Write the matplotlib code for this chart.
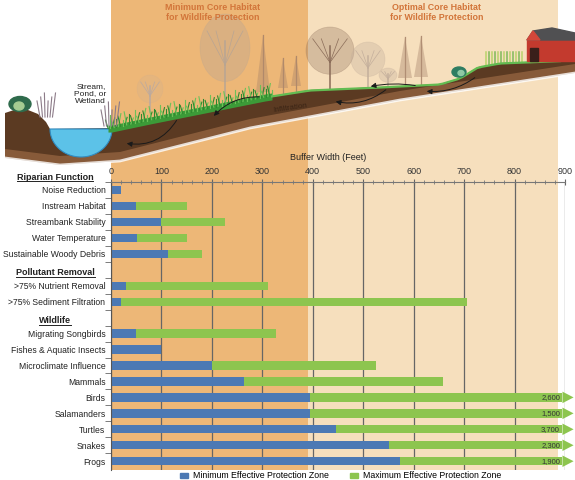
import numpy as np
import matplotlib.pyplot as plt
from matplotlib.patches import Rectangle, Polygon, Ellipse, FancyArrowPatch, Patch
from matplotlib.transforms import blended_transform_factory
from matplotlib.ticker import MultipleLocator

plt.rcParams['font.family'] = ['Liberation Sans', 'DejaVu Sans']

# data (feet)
groups = ["Riparian Function", "Pollutant Removal", "Wildlife"]
group_sizes = [5, 2, 9]
labels = ["Noise Reduction", "Instream Habitat", "Streambank Stability",
          "Water Temperature", "Sustainable Woody Debris",
          ">75% Nutrient Removal", ">75% Sediment Filtration",
          "Migrating Songbirds", "Fishes & Aquatic Insects",
          "Microclimate Influence", "Mammals", "Birds", "Salamanders",
          "Turtles", "Snakes", "Frogs"]
min_zone = [20, 50, 100, 52, 113, 30, 20, 50, 100, 200, 264, 395, 395, 446, 551, 573]
max_zone = [20, 150, 225, 150, 180, 311, 705, 328, 100, 525, 658, 2600, 1500, 3700, 2300, 1900]
xticks = [0, 100, 200, 300, 400, 500, 600, 700, 800, 900]

blue = '#4C79B4'
green = '#8DC54F'
dark_band = '#EDB777'
light_band = '#F6DFBD'
W, H = 575, 480

# row positions: one slot per header and per item
rows, head_rows = [], []
pos = 0
for n in group_sizes:
    head_rows.append(pos)
    pos += 1
    for k in range(n):
        rows.append(pos)
        pos += 1
rows = np.array(rows)

fig = plt.figure(figsize=(W / 100, H / 100), dpi=100)
ill = fig.add_axes([0, 0, 1, 1], zorder=0)
ill.set_xlim(0, W)
ill.set_ylim(H, 0)
ill.axis('off')

ax = fig.add_axes([111 / W, 1 - 470 / H, 454 / W, 288 / H], zorder=1)
ax.patch.set_alpha(0)
ax.set_xlim(0, 900)
ax.set_ylim(pos - 0.45, 0.56)

# background habitat bands, running up through the illustration
band_tr = blended_transform_factory(ax.transData, ill.transData)
ill.add_patch(Rectangle((0, 0), 390, 470, transform=band_tr, color=dark_band, lw=0, zorder=0))
ill.add_patch(Rectangle((390, 0), 497, 470, transform=band_tr, color=light_band, lw=0, zorder=0))

# ---- illustration ----
top_x = [5, 14, 28, 38, 46, 50, 112, 150, 200, 265, 310, 380, 440, 460, 478, 500, 575]
top_y = [113, 110, 110, 114, 122, 129, 128, 120, 110, 97, 90, 87, 84, 78, 67, 63, 60]
bot_x = [575, 400, 250, 120, 60, 5]
bot_y = [73, 100, 128, 161, 165, 158]
ground = list(zip(top_x, top_y)) + list(zip(bot_x, bot_y))
ill.add_patch(Polygon(ground, closed=True, color='#5B3A22', lw=0, zorder=2))
lower = list(zip(bot_x, bot_y)) + list(zip(bot_x[::-1], [v - 9 for v in bot_y[::-1]]))
ill.add_patch(Polygon(lower, closed=True, color='#93633F', lw=0, alpha=0.8, zorder=2))
ill.plot(bot_x, bot_y, color='white', lw=2, alpha=0.8, zorder=2)

t = np.linspace(0, np.pi, 40)
ill.add_patch(Polygon(np.c_[81 + 31 * np.cos(t), 129 + 28 * np.sin(t)], closed=True,
                      facecolor='#5CC2E8', edgecolor='#2F8CC2', lw=0.8, zorder=3))

# grass
gx = np.linspace(108, 272, 80)
gy = np.interp(gx, top_x, top_y)
ill.fill_between(gx, gy - 3, gy + 4, color='#3C9A38', lw=0, zorder=3)
for k, (x, y) in enumerate(zip(gx, gy)):
    h = [8, 13, 10, 6][k % 4]
    ill.plot([x, x + (k % 3 - 1) * 2.5], [y, y - h], color=['#2F8A2F', '#6CC158'][k % 2], lw=0.8, zorder=3)
rx = np.linspace(272, 560, 60)
ill.plot(rx, np.interp(rx, top_x, top_y) + 0.5, color='#63BC52', lw=1.6, zorder=3)

# reeds and bushes
for x0, base in [(40, 117), (104, 126)]:
    for k in range(6):
        ill.plot([x0 + k * 2.5, x0 + k * 2.5 + (k - 2.5) * 1.2], [base, base - 16 - (k % 3) * 4],
                 color='#8C7B88', lw=0.8, zorder=3)
ill.add_patch(Ellipse((20, 104), 22, 15, color='#2F6B4C', zorder=3))
ill.add_patch(Ellipse((19, 106), 10, 8, color='#A5CC92', zorder=3))
ill.add_patch(Ellipse((459, 72), 14, 10, color='#2E7D62', zorder=3))
ill.add_patch(Ellipse((461, 73), 6, 5, color='#8FC9A4', zorder=3))


def tree(x, base, top, w, color, alpha=0.35):
    crown_h = (base - top) * 0.75
    ill.plot([x, x], [base, top + crown_h * 0.4], color=color, lw=1.1, zorder=1)
    ill.add_patch(Ellipse((x, top + crown_h / 2), w, crown_h, facecolor=color, alpha=alpha,
                          edgecolor=color, lw=0.5, zorder=1))
    for a in [-0.6, -0.3, 0.3, 0.6]:
        ill.plot([x, x + a * w * 0.6], [top + crown_h * 0.75, top + crown_h * 0.25],
                 color=color, lw=0.5, zorder=1)


def conifer(x, base, top, w, color):
    ill.plot([x, x], [base, top], color=color, lw=0.9, zorder=1)
    ill.add_patch(Polygon([(x, top), (x + w / 2, base - 8), (x - w / 2, base - 8)], closed=True,
                          facecolor=color, alpha=0.45, lw=0, zorder=1))


tree(225, 104, 14, 50, '#B8A594')
tree(150, 112, 75, 26, '#BBAAA0', alpha=0.15)
conifer(263, 100, 35, 14, '#B0896A')
conifer(283, 96, 58, 10, '#B0896A')
conifer(296, 94, 56, 10, '#B0896A')
tree(330, 90, 27, 48, '#8A6C58', alpha=0.3)
tree(368, 88, 42, 34, '#C4AF9C')
tree(388, 87, 68, 18, '#C4AF9C')
conifer(405, 86, 37, 14, '#B08E74')
conifer(421, 85, 36, 14, '#B08E74')

# fence / crops and barn
for k, x in enumerate(np.linspace(486, 522, 13)):
    ill.plot([x, x], [np.interp(x, top_x, top_y), 52], color=['#B9D36A', '#7FB85A'][k % 2], lw=1.1, zorder=2)
ill.add_patch(Rectangle((527, 39), 48, 22, color='#C33A2E', zorder=4))
ill.add_patch(Polygon([(527, 40), (533, 31), (552, 28), (575, 33), (575, 40)], closed=True,
                      color='#505052', zorder=4))
ill.add_patch(Polygon([(527, 40), (533, 31), (540, 40)], closed=True, color='#D2473A', zorder=4))
ill.add_patch(Rectangle((530, 48), 8, 13, color='#3A1F1A', zorder=4))

# infiltration arrows
for (x0, y0), (x1, y1), r in [((262, 97), (212, 118), 0.25), ((178, 118), (124, 143), -0.35),
                               ((388, 88), (333, 101), -0.25), ((477, 76), (424, 91), -0.2),
                               ((418, 86), (368, 87), 0.1)]:
    ill.add_patch(FancyArrowPatch((x0, y0), (x1, y1), connectionstyle=f'arc3,rad={r}',
                                  arrowstyle='-|>,head_length=3,head_width=1.5', color='#1A1A1A',
                                  lw=0.7, zorder=5))

ill.text(290, 108, 'Infiltration', fontsize=5.8, color='#3A2415', rotation=8, ha='center', va='center', zorder=5)
ill.text(106, 94, 'Stream,\nPond, or\nWetland', fontsize=6, color='#222', ha='right', va='center',
         multialignment='right', linespacing=1.1, zorder=5)
ill.text(213, 12.5, 'Minimum Core Habitat\nfor Wildlife Protection', fontsize=6.4, fontweight='bold',
         color='#D2753A', ha='center', va='center', linespacing=1.25, zorder=5)
ill.text(437, 12.5, 'Optimal Core Habitat\nfor Wildlife Protection', fontsize=6.4, fontweight='bold',
         color='#D2753A', ha='center', va='center', linespacing=1.25, zorder=5)
ill.text(328, 157, 'Buffer Width (Feet)', fontsize=6.5, color='#222', ha='center', va='center', zorder=5)

# ---- bar chart ----
ax.set_axisbelow(True)
bar_h = 0.52
for y, lo, hi in zip(rows, min_zone, max_zone):
    ax.barh(y, lo, height=bar_h, color=blue, lw=0)
    if hi > 900:
        ax.barh(y, 895 - lo, left=lo, height=bar_h, color=green, lw=0)
        ax.fill([895, 917, 895], [y - 0.36, y, y + 0.36], color=green, lw=0, clip_on=False)
        ax.text(890, y, f"{hi:,}", ha='right', va='center', fontsize=5.5, color='#333')
    elif hi > lo:
        ax.barh(y, hi - lo, left=lo, height=bar_h, color=green, lw=0)

ax.xaxis.tick_top()
ax.set_xticks(xticks)
ax.xaxis.set_minor_locator(MultipleLocator(20))
ax.tick_params(axis='x', which='major', labelsize=6.5, length=4, direction='inout', color='#666',
               pad=2, labelcolor='#333')
ax.tick_params(axis='x', which='minor', length=3, direction='inout', color='#777')
ax.grid(axis='x', color='#666', lw=0.9)

ax.set_yticks(rows, labels)
ax.set_yticks(np.arange(pos - 1) + 0.5, minor=True)
ax.tick_params(axis='y', which='major', length=0, labelsize=6.2, pad=4, labelcolor='#222')
ax.tick_params(axis='y', which='minor', length=4, color='#666')
for s in ['right', 'bottom']:
    ax.spines[s].set_visible(False)
ax.spines['top'].set_color('#777')
ax.spines['left'].set_color('#555')

head_tr = blended_transform_factory(ax.transAxes, ax.transData)
heads = [ax.text(-0.123, r + 0.2, g, transform=head_tr, ha='center', va='center', fontsize=6.5,
                 fontweight='bold', color='#222', clip_on=False) for g, r in zip(groups, head_rows)]

fig.legend(handles=[Patch(color=blue), Patch(color=green)],
           labels=['Minimum Effective Protection Zone', 'Maximum Effective Protection Zone'],
           loc='center', bbox_to_anchor=(341 / W, 1 - 476 / H), ncol=2, frameon=False, fontsize=6.3,
           handlelength=0.9, handleheight=0.5, handletextpad=0.6, columnspacing=2.4, borderpad=0)

# underline the group headers
fig.canvas.draw()
inv = ill.transData.inverted()
for h in heads:
    bb = h.get_window_extent()
    (x0, y0), (x1, _) = inv.transform([(bb.x0, bb.y0), (bb.x1, bb.y0)])
    ill.plot([x0, x1], [y0 - 0.5, y0 - 0.5], color='#222', lw=0.7, zorder=5)

fig.savefig('out.png', dpi=100)
